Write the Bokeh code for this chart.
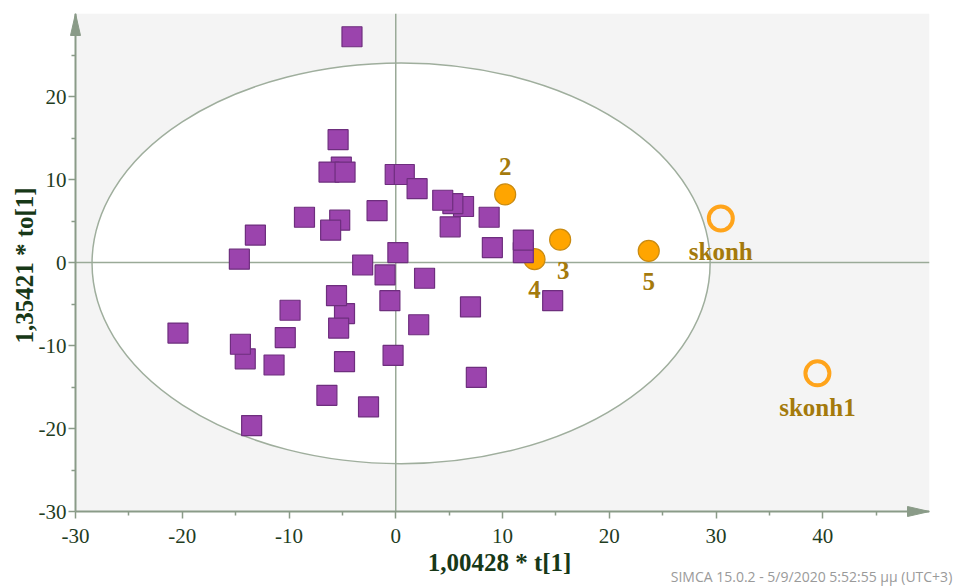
from bokeh.plotting import figure
from bokeh.models import ColumnDataSource, FixedTicker, LinearAxis
from bokeh.core.properties import value
from bokeh.embed import file_html
from bokeh.resources import INLINE

# ---------------- data ----------------
x_lim = (-30, 50)
y_lim = (-30, 30)
x_ticks = [-30, -20, -10, 0, 10, 20, 30, 40]
x_minor = [-25, -15, -5, 5, 15, 25, 35, 45]
y_ticks = [-30, -20, -10, 0, 10, 20]
y_minor = [-25, -15, -5, 5, 15, 25]

sq_x = [-4.1, -5.4, -5.1, -6.25, -4.75, -8.55, -5.25, -6.1, -13.15, -14.65,
        -3.1, -1.75, -0.05, 0.8, 2.0, 6.35, 5.35, 4.4, 5.1, 8.75,
        9.05, 11.95, 11.95, 0.2, -1.0, 2.7, -20.4, -14.1, -14.55, -11.4,
        -10.35, -9.9, -4.8, -5.55, -5.35, -4.8, -6.45, -2.55, -13.5, -0.55,
        2.15, 7.0, 14.7, -0.25, 7.55]
sq_y = [27.2, 14.8, 11.5, 10.9, 10.9, 5.45, 5.1, 3.9, 3.3, 0.4,
        -0.3, 6.25, 10.6, 10.6, 8.9, 6.75, 7.1, 7.5, 4.3, 5.45,
        1.8, 1.2, 2.7, 1.2, -1.5, -1.9, -8.5, -11.6, -9.85, -12.35,
        -9.05, -5.75, -6.15, -4.0, -7.9, -11.95, -16.0, -17.4, -19.65, -4.6,
        -7.5, -5.35, -4.6, -11.2, -13.85]

obs_names = ["2", "3", "4", "5"]
obs_x = [10.25, 15.4, 13.0, 23.7]
obs_y = [8.2, 2.75, 0.4, 1.4]

pred_names = ["skonh", "skonh1"]
pred_x = [30.45, 39.5]
pred_y = [5.3, -13.35]

ellipse_center = (0.5, -0.1)
ellipse_size = (57.9, 48.3)

x_label = "1,00428 * t[1]"
y_label = "1,35421 * to[1]"
footer = "SIMCA 15.0.2 - 5/9/2020 5:52:55 μμ (UTC+3)"

# label offsets in screen pixels (style)
obs_dx = [0, 3, 0, 0]
obs_dy = [-28, 31, 30, 31]
pred_dx = [0, 0]
pred_dy = [33, 34]

# ---------------- styles ----------------
AXIS_COL = "#8a9b88"
ZERO_COL = "#9aaa98"
TICK_TXT = "#1f3d1f"
LABEL_TXT = "#173817"
PURPLE = "#9b44ad"
PURPLE_LINE = "#6e2e7e"
ORANGE = "#ffa500"
ORANGE_LINE = "#c98a10"
NAME_COL = "#a47a0c"
SERIF = "Liberation Serif"

# pixel geometry of the data area, plus a pad left/below for the arrow heads
DW, DH = 854, 498
PAD = 6
ux = DW / (x_lim[1] - x_lim[0])
uy = DH / (y_lim[1] - y_lim[0])
x_range = (x_lim[0] - PAD / ux, x_lim[1])
y_range = (y_lim[0] - PAD / uy, y_lim[1])
FW, FH = DW + PAD, DH + PAD

p = figure(x_range=x_range, y_range=y_range, frame_width=FW, frame_height=FH,
           min_border_left=69, min_border_right=26, min_border_top=13, min_border_bottom=10,
           output_backend="svg", toolbar_location=None)
p.background_fill_color = "white"
p.border_fill_color = "white"
p.outline_line_color = None
p.xgrid.visible = False
p.ygrid.visible = False

# grey plot area
bg = p.quad(left=[x_lim[0]], right=[x_lim[1]], bottom=[y_lim[0]], top=[y_lim[1]],
            fill_color="#f4f4f4", line_color=None)
bg.level = "image"

# ellipse (Hotelling T2)
er = p.ellipse(x=[ellipse_center[0]], y=[ellipse_center[1]],
               width=[ellipse_size[0]], height=[ellipse_size[1]],
               fill_color="white", line_color="#9fae9d", line_width=1.5)
er.level = "image"

# zero lines
zl = p.segment(x0=[x_lim[0], 0], y0=[0, y_lim[0]], x1=[x_lim[1], 0], y1=[0, y_lim[1]],
               line_color=ZERO_COL, line_width=1.5)
zl.level = "underlay"

# axis lines with arrow heads
p.segment(x0=[x_lim[0], x_lim[0]], y0=[y_lim[0], y_lim[0]],
          x1=[x_lim[0], x_lim[1]], y1=[y_lim[1], y_lim[0]],
          line_color=AXIS_COL, line_width=2)
head_len, head_half = 22, 5
p.patches(xs=[[x_lim[0] - head_half / ux, x_lim[0], x_lim[0] + head_half / ux],
              [x_lim[1] - head_len / ux, x_lim[1], x_lim[1] - head_len / ux]],
          ys=[[y_lim[1] - head_len / uy, y_lim[1], y_lim[1] - head_len / uy],
              [y_lim[0] + head_half / uy, y_lim[0], y_lim[0] - head_half / uy]],
          fill_color=AXIS_COL, line_color=AXIS_COL, line_width=1)

# observation circles (filled) and prediction circles (open)
src_obs = ColumnDataSource(dict(x=obs_x, y=obs_y, name=obs_names, dx=obs_dx, dy=obs_dy))
p.scatter("x", "y", source=src_obs, marker="circle", size=21,
          fill_color=ORANGE, line_color=ORANGE_LINE, line_width=1.2)
src_pred = ColumnDataSource(dict(x=pred_x, y=pred_y, name=pred_names, dx=pred_dx, dy=pred_dy))
p.scatter("x", "y", source=src_pred, marker="circle", size=24,
          fill_color=None, line_color="#ffa41b", line_width=4)

# squares
p.scatter(sq_x, sq_y, marker="square", size=20,
          fill_color=PURPLE, line_color=PURPLE_LINE, line_width=1.2)

# name labels
for src in (src_obs, src_pred):
    p.text("x", "y", text="name", source=src, x_offset="dx", y_offset="dy",
           text_align="center", text_baseline="middle",
           text_font=value(SERIF), text_color=NAME_COL,
           text_font_size="25px", text_font_style="bold")

# axes (ticks reach from the data edge outwards; the frame has a PAD px margin)
for ax, ticks, minor in ((p.xaxis[0], x_ticks, x_minor), (p.yaxis[0], y_ticks, y_minor)):
    ax.ticker = FixedTicker(ticks=ticks, minor_ticks=minor)
    ax.major_label_overrides = {t: str(t) for t in ticks}
    ax.axis_line_color = None
    ax.major_tick_line_color = AXIS_COL
    ax.minor_tick_line_color = AXIS_COL
    ax.major_tick_line_width = 1.5
    ax.minor_tick_line_width = 1.5
    ax.major_tick_in = PAD
    ax.major_tick_out = 1
    ax.minor_tick_in = PAD
    ax.minor_tick_out = -2
    ax.major_label_text_font = SERIF
    ax.major_label_text_font_size = "21px"
    ax.major_label_text_color = TICK_TXT
    ax.axis_label_text_font = SERIF
    ax.axis_label_text_font_size = "25px"
    ax.axis_label_text_font_style = "bold"
    ax.axis_label_text_color = LABEL_TXT
p.xaxis.axis_label = x_label
p.yaxis.axis_label = y_label
p.xaxis.major_label_standoff = 10
p.yaxis.major_label_standoff = 2
p.xaxis.axis_label_standoff = 3
p.yaxis.axis_label_standoff = -2

# footer: a bare axis below whose only tick label is the program stamp
footer_px = 811  # centre of the stamp in page pixels
footer_axis = LinearAxis(
    ticker=FixedTicker(ticks=[x_lim[0] + (footer_px - 75) / ux], minor_ticks=[]),
    axis_line_color=None, major_tick_line_color=None, minor_tick_line_color=None,
    major_tick_in=0, major_tick_out=0, major_label_standoff=-12,
    major_label_text_font="Open Sans", major_label_text_font_size="14px",
    major_label_text_color="#9a9a9a")
footer_axis.major_label_overrides = {footer_axis.ticker.ticks[0]: footer}
p.add_layout(footer_axis, "below")

open("out.html", "w").write(file_html(p, INLINE))
